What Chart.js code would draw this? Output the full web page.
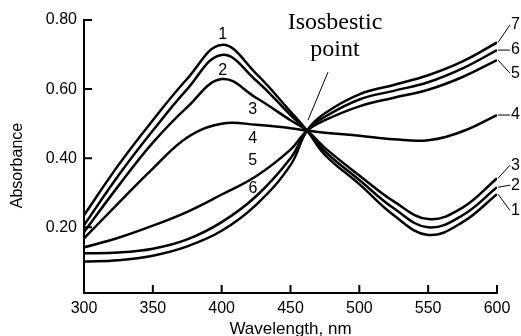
<!DOCTYPE html>
<html>
<head>
<meta charset="utf-8">
<script src="https://cdn.jsdelivr.net/npm/chart.js@4.4.1/dist/chart.umd.min.js"></script>
<style>
  html, body { margin: 0; padding: 0; background: #fff; }
  #wrap { width: 521px; height: 336px; }
</style>
</head>
<body>
<div id="wrap"><canvas id="absChart" width="521" height="336"></canvas></div>
<script>
const wavelengths = [300, 325, 350, 375, 400, 425, 450, 462, 475, 500, 525, 550, 575, 600];

// Absorbance values for curves 1..7
const curve1 = [0.235, 0.38, 0.51, 0.63, 0.728, 0.645, 0.535, 0.48, 0.41, 0.325, 0.235, 0.178, 0.215, 0.296];
const curve2 = [0.206, 0.35, 0.48, 0.60, 0.699, 0.625, 0.525, 0.48, 0.42, 0.337, 0.255, 0.200, 0.235, 0.316];
const curve3 = [0.186, 0.32, 0.445, 0.548, 0.629, 0.575, 0.51, 0.48, 0.43, 0.35, 0.275, 0.224, 0.257, 0.342];
const curve4 = [0.168, 0.27, 0.37, 0.46, 0.50, 0.497, 0.487, 0.48, 0.474, 0.465, 0.455, 0.452, 0.478, 0.525];
const curve5 = [0.142, 0.17, 0.205, 0.245, 0.295, 0.348, 0.425, 0.48, 0.51, 0.55, 0.575, 0.598, 0.635, 0.684];
const curve6 = [0.125, 0.127, 0.138, 0.165, 0.215, 0.29, 0.40, 0.48, 0.52, 0.57, 0.595, 0.62, 0.66, 0.713];
const curve7 = [0.101, 0.105, 0.118, 0.145, 0.19, 0.265, 0.38, 0.48, 0.53, 0.585, 0.612, 0.64, 0.68, 0.735];

// Axis ticks
const xTicks = [300, 350, 400, 450, 500, 550, 600];
const yTicks = [0.2, 0.4, 0.6, 0.8];

// Curve number labels inside the plot (data coordinates)
const leftLabels = ['1', '2', '3', '4', '5', '6'];
const leftLabelX = [400.7, 400.7, 422.5, 422.5, 422.5, 422.8];
const leftLabelY = [0.757, 0.653, 0.542, 0.458, 0.392, 0.313];

// Curve number labels to the right of 600 nm, top to bottom
const rightLabels = ['7', '6', '5', '4', '3', '2', '1'];
const rightLabelY = [0.786, 0.713, 0.646, 0.525, 0.38, 0.322, 0.249];
const rightCurves = [curve7, curve6, curve5, curve4, curve3, curve2, curve1];

// Isosbestic point callout
const isoText = ['Isosbestic', 'point'];
const isoTextX = 482.3;
const isoTextY = [0.791, 0.713];
const isoLeader = [[477.2, 0.649], [462.7, 0.51]];

const sansFont = "'Liberation Sans', Arial, sans-serif";
const serifFont = "'Liberation Serif', 'Times New Roman', serif";

const allCurves = [curve1, curve2, curve3, curve4, curve5, curve6, curve7];

// Tick marks pointing into the plot, labels and callouts
const annotations = {
    id: 'annotations',
    afterDraw(chart) {
        const ctx = chart.ctx;
        const xs = chart.scales.x;
        const ys = chart.scales.y;
        const area = chart.chartArea;
        ctx.save();
        ctx.strokeStyle = '#000';
        ctx.fillStyle = '#000';
        ctx.lineWidth = 2;

        // inside tick marks
        ctx.beginPath();
        xTicks.slice(1).forEach(v => {
            const px = xs.getPixelForValue(v);
            ctx.moveTo(px, area.bottom);
            ctx.lineTo(px, area.bottom - 8);
        });
        yTicks.forEach(v => {
            const py = ys.getPixelForValue(v);
            ctx.moveTo(area.left, py);
            ctx.lineTo(area.left + 8, py);
        });
        ctx.stroke();

        // y axis title, drawn by hand so it sits where the original has it
        ctx.save();
        ctx.translate(18, (area.top + area.bottom) / 2 + 9);
        ctx.rotate(-Math.PI / 2);
        ctx.font = '16px ' + sansFont;
        ctx.textAlign = 'center';
        ctx.textBaseline = 'middle';
        ctx.fillText('Absorbance', 0, 0);
        ctx.restore();

        // numbers beside the curves
        ctx.font = '16px ' + sansFont;
        ctx.textAlign = 'center';
        ctx.textBaseline = 'middle';
        leftLabels.forEach((t, i) => {
            ctx.fillText(t, xs.getPixelForValue(leftLabelX[i]), ys.getPixelForValue(leftLabelY[i]));
        });

        const endX = xs.getPixelForValue(600);
        ctx.lineWidth = 1;
        ctx.textAlign = 'left';
        rightLabels.forEach((t, i) => {
            const curve = rightCurves[i];
            const y0 = ys.getPixelForValue(curve[curve.length - 1]);
            const y1 = ys.getPixelForValue(rightLabelY[i]);
            ctx.beginPath();
            ctx.moveTo(endX + 1, y0);
            ctx.lineTo(endX + 13, y1);
            ctx.stroke();
            ctx.fillText(t, endX + 14, y1);
        });

        // isosbestic point callout
        ctx.font = '24px ' + serifFont;
        ctx.textAlign = 'center';
        isoText.forEach((t, i) => {
            ctx.fillText(t, xs.getPixelForValue(isoTextX), ys.getPixelForValue(isoTextY[i]));
        });
        ctx.beginPath();
        ctx.moveTo(xs.getPixelForValue(isoLeader[0][0]), ys.getPixelForValue(isoLeader[0][1]));
        ctx.lineTo(xs.getPixelForValue(isoLeader[1][0]), ys.getPixelForValue(isoLeader[1][1]));
        ctx.stroke();
        ctx.restore();
    }
};

const ctx = document.getElementById('absChart').getContext('2d');

new Chart(ctx, {
    type: 'line',
    data: {
        datasets: allCurves.map((curve, i) => ({
            label: 'Curve ' + (i + 1),
            data: wavelengths.map((w, j) => ({ x: w, y: curve[j] })),
            borderColor: '#000',
            borderWidth: 2.5,
            pointRadius: 0,
            fill: false,
            tension: 0.4
        }))
    },
    options: {
        responsive: false,
        devicePixelRatio: 1,
        animation: false,
        layout: { padding: { top: 20, right: 24, left: 0, bottom: 0 } },
        plugins: {
            legend: { display: false },
            tooltip: { enabled: false }
        },
        scales: {
            x: {
                type: 'linear',
                min: 300,
                max: 600,
                afterBuildTicks: s => { s.ticks = xTicks.map(v => ({ value: v })); },
                afterFit: s => { s.height = 43; },
                grid: { display: false, drawTicks: false },
                border: { display: true, color: '#000', width: 2 },
                ticks: { color: '#000', padding: 6, font: { family: sansFont, size: 16 } },
                title: {
                    display: true,
                    text: 'Wavelength, nm',
                    color: '#000',
                    padding: { top: 0, bottom: -4 },
                    font: { family: sansFont, size: 17 }
                }
            },
            y: {
                min: 0.01,
                max: 0.8,
                afterBuildTicks: s => { s.ticks = yTicks.map(v => ({ value: v })); },
                afterFit: s => { s.width = 84; },
                grid: { display: false, drawTicks: false },
                border: { display: true, color: '#000', width: 2 },
                ticks: {
                    color: '#000',
                    padding: 7,
                    font: { family: sansFont, size: 16 },
                    callback: v => v.toFixed(2)
                },
                title: { display: false }
            }
        }
    },
    plugins: [annotations]
});
</script>
</body>
</html>
